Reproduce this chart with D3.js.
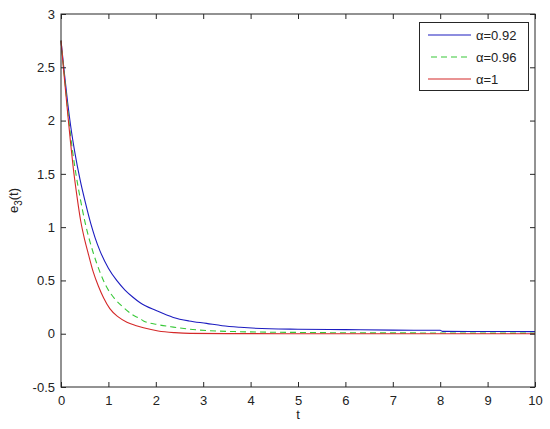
<!DOCTYPE html>
<html><head><meta charset="utf-8">
<script src="https://cdn.jsdelivr.net/npm/d3@7"></script>
<style>body{margin:0;background:#fff}svg{display:block}text{font-family:"Liberation Sans",Arial,sans-serif}</style>
</head><body><svg id="c" width="550" height="429"></svg>
<script>
const xTicks = [0,1,2,3,4,5,6,7,8,9,10];
const yTicks = [-0.5,0,0.5,1,1.5,2,2.5,3];
const seriesNames = ["α=0.92","α=0.96","α=1"];
const tBlue  = [0,0.07,0.14,0.21,0.3,0.4,0.52,0.63,0.72,0.82,1.0,1.175,1.35,1.525,1.67,2.02,2.37,2.7,3.07,3.4,3.78,4.4,5,6,7,8,8.05,9,10];
const vBlue  = [2.75,2.45,2.17,1.93,1.68,1.45,1.22,1.03,0.9,0.78,0.615,0.5,0.41,0.34,0.29,0.215,0.153,0.12,0.097,0.075,0.06,0.046,0.042,0.038,0.034,0.032,0.022,0.021,0.02];
const tGreen = [0,0.065,0.13,0.2,0.28,0.36,0.44,0.51,0.6,0.68,0.82,0.96,1.13,1.31,1.5,1.67,1.74,2.05,2.37,2.7,3.07,3.78,5,6,8,10];
const vGreen = [2.75,2.45,2.15,1.87,1.6,1.38,1.19,1.04,0.88,0.76,0.58,0.44,0.33,0.25,0.18,0.14,0.12,0.085,0.062,0.043,0.03,0.019,0.012,0.009,0.007,0.005];
const tRed   = [0,0.06,0.13,0.2,0.26,0.34,0.415,0.5,0.576,0.68,0.79,0.9,1.03,1.2,1.39,1.57,1.74,2.05,2.4,2.72,3.5,5,10];
const vRed   = [2.75,2.45,2.12,1.8,1.55,1.28,1.06,0.88,0.75,0.58,0.445,0.335,0.235,0.16,0.108,0.078,0.056,0.026,0.01,0.003,0.001,0,0];
const colors = ["#1c1cc0","#38c838","#d42828"];

(function(){
const svg = d3.select("#c");
const L=61,R=535,T=14,B=387;
const x = d3.scaleLinear().domain([0,10]).range([L,R]);
const y = d3.scaleLinear().domain([-0.5,3]).range([B,T]);
const axisCol="#262626";
svg.append("rect").attr("x",L).attr("y",T).attr("width",R-L).attr("height",B-T).attr("fill","#fff");

const series = [
  {name:seriesNames[0], t:tBlue, v:vBlue, color:colors[0], dash:null},
  {name:seriesNames[1], t:tGreen, v:vGreen, color:colors[1], dash:"6,4"},
  {name:seriesNames[2], t:tRed, v:vRed, color:colors[2], dash:null}
];
const line = d3.line().x(d=>x(d[0])).y(d=>y(d[1])).curve(d3.curveMonotoneX);
series.forEach(s=>{
  svg.append("path").datum(s.t.map((t,i)=>[t,s.v[i]]))
    .attr("d",line).attr("fill","none").attr("stroke",s.color).attr("stroke-width",1.1)
    .attr("stroke-dasharray",s.dash);
});

const gBottom = svg.append("g").attr("transform",`translate(0,${B})`)
  .call(d3.axisBottom(x).tickValues(xTicks).tickSize(-5).tickPadding(9).tickFormat(d3.format("d")));
const gTop = svg.append("g").attr("transform",`translate(0,${T})`)
  .call(d3.axisTop(x).tickValues(xTicks).tickSize(-5).tickFormat(""));
const gLeft = svg.append("g").attr("transform",`translate(${L},0)`)
  .call(d3.axisLeft(y).tickValues(yTicks).tickSize(-5).tickPadding(6).tickFormat(d=>String(d)));
const gRight = svg.append("g").attr("transform",`translate(${R},0)`)
  .call(d3.axisRight(y).tickValues(yTicks).tickSize(-5).tickFormat(""));
[gBottom,gTop,gLeft,gRight].forEach(g=>{
  g.select(".domain").remove();
  g.selectAll(".tick line").attr("stroke",axisCol);
  g.selectAll("text").attr("fill","#222").style("font-size","13px").style("font-family","'Liberation Sans',Arial,sans-serif");
});
svg.append("rect").attr("x",L).attr("y",T).attr("width",R-L).attr("height",B-T)
  .attr("fill","none").attr("stroke",axisCol).attr("stroke-width",1);

svg.append("text").attr("x",x(5)).attr("y",419).attr("text-anchor","middle")
  .style("font-size","13px").attr("fill","#222").text("t");
const yl = svg.append("text").attr("transform",`translate(18,${(T+B)/2}) rotate(-90)`)
  .attr("text-anchor","middle").style("font-size","13px").attr("fill","#222");
yl.append("tspan").text("e");
yl.append("tspan").attr("dy",4).style("font-size","10px").text("3");
yl.append("tspan").attr("dy",-4).text("(t)");

const lg = svg.append("g");
lg.append("rect").attr("x",419.5).attr("y",22.5).attr("width",109).attr("height",68)
  .attr("fill","#fff").attr("stroke",axisCol);
const rowY=[35,57,79];
series.forEach((s,i)=>{
  lg.append("line").attr("x1",s.dash?431:428).attr("x2",471).attr("y1",rowY[i]).attr("y2",rowY[i])
    .attr("stroke",s.color).attr("stroke-width",1.1).attr("stroke-dasharray",s.dash);
  lg.append("text").attr("x",476).attr("y",rowY[i]+5).style("font-size","13px").attr("fill","#222").text(s.name);
});
})();
</script></body></html>
